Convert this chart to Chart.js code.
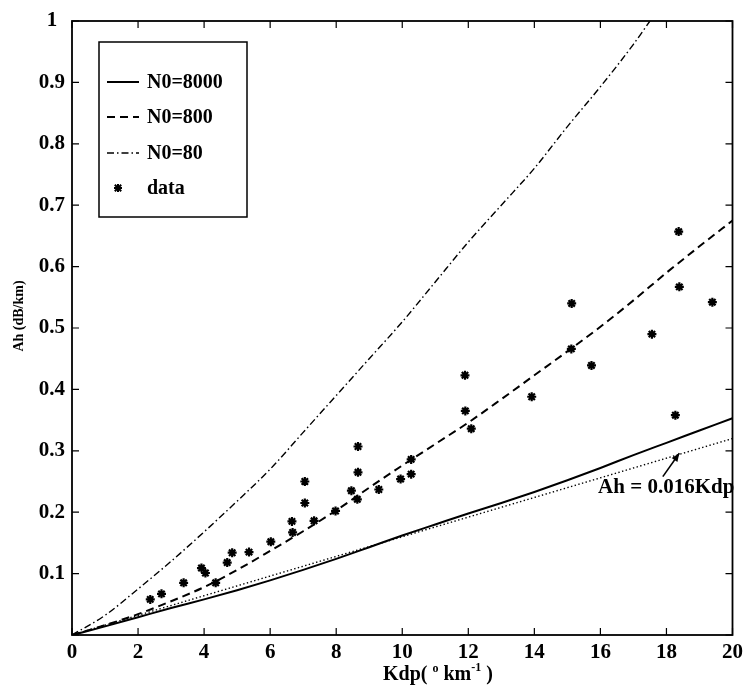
<!DOCTYPE html>
<html><head><meta charset="utf-8">
<script src="https://cdn.jsdelivr.net/npm/chart.js@4"></script>
<style>html,body{margin:0;padding:0;background:#fff}#wrap{width:748px;height:690px}</style>
</head><body><div id="wrap"><canvas id="c" width="748" height="690"></canvas></div>
<script>
// ---- data ----
const xTicks = [0,2,4,6,8,10,12,14,16,18,20];
const yTicks = [0,0.1,0.2,0.3,0.4,0.5,0.6,0.7,0.8,0.9,1];
const yTickLabels = ['','0.1','0.2','0.3','0.4','0.5','0.6','0.7','0.8','0.9','1'];
const xTickLabels = ['0','2','4','6','8','10','12','14','16','18','20'];

const curveX = [0,1,2,3,4,5,6,7,8,9,10,11,12,13,14,15,16,17,18,19,20];
const n8000 = [0,0.014,0.029,0.044,0.058,0.073,0.089,0.106,0.124,0.143,0.162,0.180,0.198,0.215,0.233,0.252,0.272,0.293,0.313,0.333,0.353];
const n800  = [0,0.016,0.034,0.055,0.078,0.106,0.137,0.169,0.203,0.240,0.276,0.311,0.346,0.384,0.423,0.462,0.502,0.545,0.590,0.633,0.675];
const n80X  = [0,1,2,3,4,5,6,7,8,9,10,11,12,13,14,15,16,17,17.5];
const n80   = [0,0.032,0.075,0.120,0.168,0.218,0.270,0.330,0.390,0.450,0.510,0.575,0.640,0.700,0.760,0.828,0.893,0.962,1.0];
const linX = [0,20];
const linY = [0,0.32];
const dataX = [2.37,2.71,3.38,3.92,4.04,4.35,4.70,4.85,5.36,6.02,6.66,6.68,7.05,7.05,7.33,7.98,8.46,8.66,8.66,8.64,9.29,9.95,10.27,10.27,11.90,11.91,12.09,13.92,15.13,15.12,15.73,17.56,18.37,18.39,18.27,19.39];
const dataY = [0.058,0.067,0.085,0.109,0.101,0.085,0.118,0.134,0.135,0.152,0.185,0.167,0.250,0.215,0.186,0.202,0.235,0.307,0.265,0.221,0.237,0.254,0.286,0.262,0.423,0.365,0.336,0.388,0.540,0.466,0.439,0.490,0.657,0.567,0.358,0.542];
const labels = ['N0=8000','N0=800','N0=80','data'];
const annText = 'Ah = 0.016Kdp';
const annPos = [15.93, 0.231];
const arrowFrom = [17.89, 0.258];
const arrowTo = [18.39, 0.296];

const pts = (xs, ys) => xs.map((x, i) => ({x, y: ys[i]}));
const FONT = '"Liberation Serif", "DejaVu Serif", serif';

function star(ctx, cx, cy, r) {
  ctx.beginPath();
  ctx.moveTo(cx - r, cy); ctx.lineTo(cx + r, cy);
  ctx.moveTo(cx, cy - r); ctx.lineTo(cx, cy + r);
  ctx.moveTo(cx - r*0.8, cy - r*0.8); ctx.lineTo(cx + r*0.8, cy + r*0.8);
  ctx.moveTo(cx - r*0.8, cy + r*0.8); ctx.lineTo(cx + r*0.8, cy - r*0.8);
  ctx.stroke();
}

const decor = {
  id: 'decor',
  afterDatasetsDraw(chart) {
    const {ctx, chartArea: a, scales: {x, y}} = chart;
    ctx.save();
    ctx.strokeStyle = '#000';
    ctx.fillStyle = '#000';
    // box
    ctx.lineWidth = 1.8;
    ctx.strokeRect(a.left, a.top, a.right - a.left, a.bottom - a.top);
    // inward ticks
    ctx.lineWidth = 1.2;
    const tl = 7;
    xTicks.forEach(v => {
      const px = x.getPixelForValue(v);
      ctx.beginPath();
      ctx.moveTo(px, a.bottom); ctx.lineTo(px, a.bottom - tl);
      ctx.moveTo(px, a.top); ctx.lineTo(px, a.top + tl);
      ctx.stroke();
    });
    yTicks.forEach(v => {
      const py = y.getPixelForValue(v);
      ctx.beginPath();
      ctx.moveTo(a.left, py); ctx.lineTo(a.left + tl, py);
      ctx.moveTo(a.right, py); ctx.lineTo(a.right - tl, py);
      ctx.stroke();
    });
    // annotation
    ctx.font = 'bold 21px ' + FONT;
    ctx.textBaseline = 'alphabetic';
    ctx.textAlign = 'left';
    ctx.fillText(annText, x.getPixelForValue(annPos[0]), y.getPixelForValue(annPos[1]));
    const x0 = x.getPixelForValue(arrowFrom[0]), y0 = y.getPixelForValue(arrowFrom[1]);
    const x1 = x.getPixelForValue(arrowTo[0]), y1 = y.getPixelForValue(arrowTo[1]);
    ctx.lineWidth = 1.6;
    ctx.beginPath(); ctx.moveTo(x0, y0); ctx.lineTo(x1, y1); ctx.stroke();
    const ang = Math.atan2(y1 - y0, x1 - x0);
    ctx.beginPath();
    ctx.moveTo(x1, y1);
    ctx.lineTo(x1 - 9 * Math.cos(ang - 0.4), y1 - 9 * Math.sin(ang - 0.4));
    ctx.lineTo(x1 - 9 * Math.cos(ang + 0.4), y1 - 9 * Math.sin(ang + 0.4));
    ctx.closePath(); ctx.fill();

    // legend
    const lx = 99, ly = 42, lw = 148, lh = 175;
    ctx.fillStyle = '#fff';
    ctx.fillRect(lx, ly, lw, lh);
    ctx.fillStyle = '#000';
    ctx.lineWidth = 1.5;
    ctx.strokeRect(lx, ly, lw, lh);
    const rows = [82, 117, 153, 188];
    chart.data.datasets.forEach((ds) => {
      if (ds.legendHide) return;
      const ry = rows[ds.legendRow];
      if (ds.showLine) {
        ctx.save();
        ctx.lineWidth = ds.borderWidth;
        ctx.setLineDash(ds.borderDash || []);
        ctx.beginPath(); ctx.moveTo(107, ry); ctx.lineTo(139, ry); ctx.stroke();
        ctx.restore();
      } else {
        ctx.save();
        ctx.lineWidth = 2;
        star(ctx, 118, ry, 4);
        ctx.restore();
      }
      ctx.font = 'bold 20px ' + FONT;
      ctx.textBaseline = 'middle';
      ctx.fillText(ds.label, 147, ry + 1);
    });

    // axis titles
    ctx.save();
    ctx.translate(19, 316);
    ctx.rotate(-Math.PI / 2);
    ctx.font = 'bold 14px ' + FONT;
    ctx.textAlign = 'center';
    ctx.textBaseline = 'middle';
    ctx.fillText('Ah (dB/km)', 0, 0);
    ctx.restore();

    let cx = 383; const base = 680;
    ctx.textAlign = 'left'; ctx.textBaseline = 'alphabetic';
    const part = (t, f, dy) => { ctx.font = f; ctx.fillText(t, cx, base + dy); cx += ctx.measureText(t).width; };
    part('Kdp( ', 'bold 20px ' + FONT, 0);
    part('o', 'bold 12px ' + FONT, -8);
    part(' km', 'bold 20px ' + FONT, 0);
    part('-1', 'bold 12px ' + FONT, -9);
    part(' )', 'bold 20px ' + FONT, 0);
    ctx.restore();
  }
};

new Chart(document.getElementById('c'), {
  type: 'scatter',
  data: {
    datasets: [
      {label: labels[0], legendRow: 0, data: pts(curveX, n8000), showLine: true, borderColor: '#000', borderWidth: 2, pointRadius: 0, cubicInterpolationMode: 'monotone'},
      {label: labels[1], legendRow: 1, data: pts(curveX, n800), showLine: true, borderColor: '#000', borderWidth: 2, borderDash: [8, 5], pointRadius: 0, cubicInterpolationMode: 'monotone'},
      {label: labels[2], legendRow: 2, data: pts(n80X, n80), showLine: true, borderColor: '#000', borderWidth: 1.4, borderDash: [7, 3, 1.5, 3], pointRadius: 0, cubicInterpolationMode: 'monotone'},
      {label: 'Ah = 0.016Kdp', legendHide: true, data: pts(linX, linY), showLine: true, borderColor: '#000', borderWidth: 1.4, borderDash: [1.4, 2.4], pointRadius: 0},
      {label: labels[3], legendRow: 3, data: pts(dataX, dataY), showLine: false, pointStyle: 'star', pointRadius: 4.5, borderColor: '#000', backgroundColor: '#000', borderWidth: 2.2}
    ]
  },
  options: {
    responsive: false,
    animation: false,
    devicePixelRatio: 1,
    layout: {padding: {left: 0, top: 21, right: 13, bottom: 0}},
    plugins: {legend: {display: false}, tooltip: {enabled: false}},
    scales: {
      x: {
        type: 'linear', min: 0, max: 20,
        afterFit: s => { s.height = 55; },
        afterBuildTicks: s => { s.ticks = xTicks.map(v => ({value: v})); },
        grid: {display: false, drawTicks: false},
        border: {display: false},
        ticks: {padding: 5, color: '#000', font: {family: FONT, size: 21, weight: 'bold'},
                callback: (v) => xTickLabels[xTicks.indexOf(v)], maxRotation: 0, autoSkip: false}
      },
      y: {
        type: 'linear', min: 0, max: 1,
        afterFit: s => { s.width = 72; },
        afterBuildTicks: s => { s.ticks = yTicks.map(v => ({value: v})); },
        grid: {display: false, drawTicks: false},
        border: {display: false},
        ticks: {padding: 7, crossAlign: 'center', color: '#000', font: {family: FONT, size: 21, weight: 'bold'},
                callback: (v) => { const i = yTicks.findIndex(t => Math.abs(t - v) < 1e-9); return i >= 0 ? yTickLabels[i] : ''; }, autoSkip: false}
      }
    }
  },
  plugins: [decor]
});
</script></body></html>
